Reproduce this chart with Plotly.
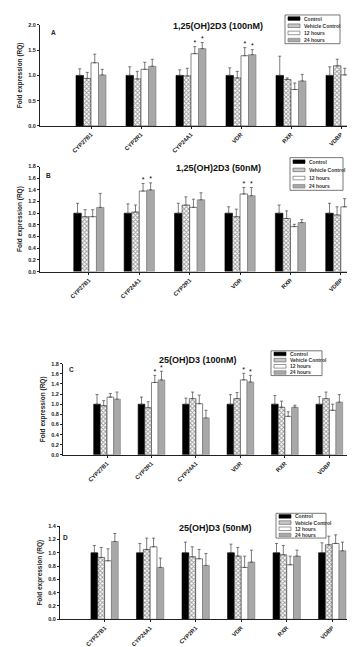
import plotly.graph_objects as go

W, H = 355, 647
FONT = "Liberation Sans"

series = ["Control", "Vehicle Control", "12 hours", "24 hours"]

# ---------------- Panel A ----------------
a_title = "1,25(OH)2D3 (100nM)"
a_genes = ["CYP27B1", "CYP2R1", "CYP24A1", "VDR", "RXR", "VDBP"]
a_control = [1.00, 1.00, 1.00, 1.00, 1.00, 1.00]
a_control_err = [0.13, 0.17, 0.11, 0.15, 0.38, 0.17]
a_vehicle = [0.94, 0.93, 0.99, 0.95, 0.92, 1.19]
a_vehicle_err = [0.12, 0.15, 0.15, 0.13, 0.03, 0.13]
a_12h = [1.25, 1.12, 1.43, 1.39, 0.72, 1.01]
a_12h_err = [0.17, 0.14, 0.14, 0.16, 0.13, 0.13]
a_24h = [1.01, 1.18, 1.53, 1.41, 0.89, 0.72]
a_24h_err = [0.11, 0.14, 0.12, 0.10, 0.13, 0.15]
a_sig = ["CYP24A1", "VDR"]

# ---------------- Panel B ----------------
b_title = "1,25(OH)2D3 (50nM)"
b_genes = ["CYP27B1", "CYP24A1", "CYP2R1", "VDR", "RXR", "VDBP"]
b_control = [1.00, 1.00, 1.00, 1.00, 1.00, 1.00]
b_control_err = [0.17, 0.16, 0.17, 0.11, 0.14, 0.17]
b_vehicle = [0.94, 1.02, 1.14, 0.94, 0.91, 0.97]
b_vehicle_err = [0.12, 0.12, 0.14, 0.13, 0.13, 0.14]
b_12h = [0.94, 1.38, 1.10, 1.33, 0.77, 1.11]
b_12h_err = [0.12, 0.13, 0.14, 0.11, 0.04, 0.14]
b_24h = [1.10, 1.40, 1.23, 1.30, 0.84, 1.02]
b_24h_err = [0.24, 0.12, 0.12, 0.14, 0.05, 0.12]
b_sig = ["CYP24A1", "VDR"]

# ---------------- Panel C ----------------
c_title = "25(OH)D3 (100nM)"
c_genes = ["CYP27B1", "CYP2R1", "CYP24A1", "VDR", "RXR", "VDBP"]
c_control = [1.00, 1.00, 1.00, 1.00, 1.00, 1.00]
c_control_err = [0.19, 0.14, 0.12, 0.19, 0.17, 0.15]
c_vehicle = [0.97, 0.93, 1.11, 1.11, 0.94, 1.11]
c_vehicle_err = [0.10, 0.12, 0.13, 0.12, 0.12, 0.13]
c_12h = [1.14, 1.43, 1.01, 1.48, 0.76, 0.88]
c_12h_err = [0.07, 0.14, 0.17, 0.13, 0.09, 0.12]
c_24h = [1.10, 1.48, 0.73, 1.44, 0.94, 1.04]
c_24h_err = [0.14, 0.17, 0.15, 0.13, 0.04, 0.15]
c_sig = ["CYP2R1", "VDR"]

# ---------------- Panel D ----------------
d_title = "25(OH)D3 (50nM)"
d_genes = ["CYP27B1", "CYP24A1", "CYP2R1", "VDR", "RXR", "VDBP"]
d_control = [1.00, 1.00, 1.00, 1.00, 1.00, 1.00]
d_control_err = [0.11, 0.14, 0.16, 0.13, 0.14, 0.15]
d_vehicle = [0.93, 1.05, 0.94, 0.95, 0.97, 1.12]
d_vehicle_err = [0.15, 0.17, 0.15, 0.13, 0.14, 0.13]
d_12h = [0.88, 1.09, 0.91, 0.78, 0.82, 1.14]
d_12h_err = [0.18, 0.13, 0.14, 0.17, 0.13, 0.13]
d_24h = [1.17, 0.78, 0.81, 0.86, 0.95, 1.03]
d_24h_err = [0.12, 0.14, 0.18, 0.18, 0.09, 0.13]
d_sig = []

y_title = "Fold expression (RQ)"

# styles per series
styles = [
    dict(color="#000000", line=dict(color="#000000", width=0.6)),
    dict(color="#ffffff", line=dict(color="#333333", width=0.6),
         pattern=dict(shape="x", size=3, solidity=0.55, fgcolor="#3a3a3a", bgcolor="#ffffff")),
    dict(color="#ffffff", line=dict(color="#333333", width=0.6)),
    dict(color="#a8a8a8", line=dict(color="#7a7a7a", width=0.6)),
]
legend_fill = ["#000000", "#c8c8c8", "#ffffff", "#a8a8a8"]
legend_line = ["#000000", "#555555", "#555555", "#7a7a7a"]

panels = [
    dict(title=a_title, letter="A", genes=a_genes,
         vals=[a_control, a_vehicle, a_12h, a_24h],
         errs=[a_control_err, a_vehicle_err, a_12h_err, a_24h_err], sig=a_sig,
         box=(32, 14, 348, 116), xr=(-1.02, 5.3), yr=(0, 2.0), dtick=0.5,
         tpos=(210, 15), lpos=(45, 22), leg=(277, 4, 332, 33)),
    dict(title=b_title, letter="B", genes=b_genes,
         vals=[b_control, b_vehicle, b_12h, b_24h],
         errs=[b_control_err, b_vehicle_err, b_12h_err, b_24h_err], sig=b_sig,
         box=(32, 157, 354, 263), xr=(-0.97, 5.42), yr=(0, 1.8), dtick=0.2,
         tpos=(210, 158), lpos=(40, 166), leg=(282, 148, 335, 181)),
    dict(title=c_title, letter="C", genes=c_genes,
         vals=[c_control, c_vehicle, c_12h, c_24h],
         errs=[c_control_err, c_vehicle_err, c_12h_err, c_24h_err], sig=c_sig,
         box=(55, 356, 340, 448), xr=(-0.99, 5.42), yr=(0, 1.8), dtick=0.2,
         tpos=(190, 352), lpos=(63, 362), leg=(263, 343, 314, 368)),
    dict(title=d_title, letter="D", genes=d_genes,
         vals=[d_control, d_vehicle, d_12h, d_24h],
         errs=[d_control_err, d_vehicle_err, d_12h_err, d_24h_err], sig=d_sig,
         box=(52, 520, 342, 614), xr=(-0.98, 5.39), yr=(0, 1.4), dtick=0.2,
         tpos=(207, 522), lpos=(57, 531), leg=(268, 507, 318, 532)),
]


def fx(px):
    return px / W


def fy(py):
    return 1 - py / H


BAR_W = 0.15
fig = go.Figure()
shapes = []
annotations = []

for k, p in enumerate(panels):
    sfx = "" if k == 0 else str(k + 1)
    xa, ya = "x" + sfx, "y" + sfx
    n = len(p["genes"])
    for j, name in enumerate(series):
        xs = [i + (j - 1.5) * BAR_W for i in range(n)]
        st = styles[j]
        marker = dict(color=st["color"], line=st["line"])
        if "pattern" in st:
            marker["pattern"] = st["pattern"]
        fig.add_trace(go.Bar(
            x=xs, y=p["vals"][j], width=BAR_W, name=name, showlegend=False,
            marker=marker, xaxis=xa, yaxis=ya,
            error_y=dict(type="data", symmetric=False, array=p["errs"][j],
                         arrayminus=[0] * n, color="#444444", thickness=0.7, width=1.5),
        ))
        # significance stars for treatment series
        if j >= 2 and p["sig"]:
            sx, sy = [], []
            for i, g in enumerate(p["genes"]):
                if g in p["sig"]:
                    sx.append(xs[i])
                    sy.append(p["vals"][j][i] + p["errs"][j][i])
            fig.add_trace(go.Scatter(
                x=sx, y=sy, mode="text", text=["*"] * len(sx), textposition="top center",
                textfont=dict(size=7, color="#000", family=FONT), showlegend=False,
                xaxis=xa, yaxis=ya, cliponaxis=False,
            ))

    x0, y0, x1, y1 = p["box"]
    fig.layout["xaxis" + sfx] = dict(
        domain=[fx(x0), fx(x1)], anchor=ya, range=list(p["xr"]),
        tickvals=list(range(n)), ticktext=p["genes"], tickangle=-45,
        tickfont=dict(size=5.8, family=FONT, color="#222", weight="bold"),
        showline=True, linecolor="#222", linewidth=1, ticks="outside", ticklen=2,
        tickcolor="#222", showgrid=False, zeroline=False, fixedrange=True,
    )
    fig.layout["yaxis" + sfx] = dict(
        domain=[fy(y1), fy(y0)], anchor=xa, range=list(p["yr"]), dtick=p["dtick"],
        tickformat=".1f", tickfont=dict(size=5.5, family=FONT, color="#222", weight="bold"),
        showline=True, linecolor="#222", linewidth=1, ticks="outside", ticklen=2,
        tickcolor="#222", showgrid=False, zeroline=False, fixedrange=True,
        title=dict(text=y_title, font=dict(size=6.5, family=FONT, color="#222", weight="bold"),
                   standoff=4),
    )
    # panel title and letter
    annotations.append(dict(x=fx(p["tpos"][0]), y=fy(p["tpos"][1]), xref="paper", yref="paper",
                            text="<b>" + p["title"] + "</b>", showarrow=False,
                            font=dict(size=9, family=FONT, color="#111"),
                            xanchor="center", yanchor="middle"))
    annotations.append(dict(x=fx(p["lpos"][0]), y=fy(p["lpos"][1]), xref="paper", yref="paper",
                            text="<b>" + p["letter"] + "</b>", showarrow=False,
                            font=dict(size=6.5, family=FONT, color="#222"),
                            xanchor="center", yanchor="middle"))
    # legend box
    lx0, ly0, lx1, ly1 = p["leg"]
    shapes.append(dict(type="rect", xref="paper", yref="paper",
                       x0=fx(lx0), x1=fx(lx1), y0=fy(ly1), y1=fy(ly0),
                       line=dict(color="#555", width=0.8), fillcolor="#ffffff", layer="above"))
    step = (ly1 - ly0) / len(series)
    for j, name in enumerate(series):
        cy = ly0 + step * (j + 0.5)
        shapes.append(dict(type="rect", xref="paper", yref="paper",
                           x0=fx(lx0 + 3), x1=fx(lx0 + 15), y0=fy(cy + 1.8), y1=fy(cy - 1.8),
                           line=dict(color=legend_line[j], width=0.6), fillcolor=legend_fill[j],
                           layer="above"))
        annotations.append(dict(x=fx(lx0 + 17), y=fy(cy), xref="paper", yref="paper",
                                text="<b>" + name + "</b>", showarrow=False,
                                font=dict(size=5, family=FONT, color="#333"),
                                xanchor="left", yanchor="middle"))

fig.update_layout(
    width=W, height=H, margin=dict(l=0, r=0, t=0, b=0),
    paper_bgcolor="#ffffff", plot_bgcolor="#ffffff",
    barmode="overlay", showlegend=False,
    shapes=shapes, annotations=annotations,
    font=dict(family=FONT),
)

fig.write_html("out.html", config={"displayModeBar": False})
